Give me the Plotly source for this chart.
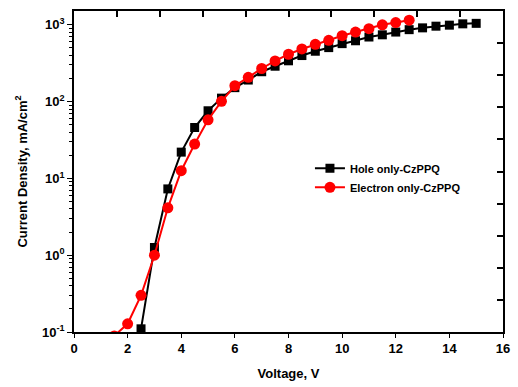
import plotly.graph_objects as go

hole_v = [2.5, 3.0, 3.5, 4.0, 4.5, 5.0, 5.5, 6.0, 6.5, 7.0, 7.5, 8.0, 8.5, 9.0, 9.5, 10.0,
          10.5, 11.0, 11.5, 12.0, 12.5, 13.0, 13.5, 14.0, 14.5, 15.0]
hole_j = [0.11, 1.26, 7.3, 22, 46, 76, 111, 152, 191, 245, 289, 340, 398, 453, 505, 569,
          620, 694, 741, 805, 865, 913, 960, 990, 1030, 1045]

elec_v = [1.5, 2.0, 2.5, 3.0, 3.5, 4.0, 4.5, 5.0, 5.5, 6.0, 6.5, 7.0, 7.5, 8.0, 8.5, 9.0,
          9.5, 10.0, 10.5, 11.0, 11.5, 12.0, 12.5]
elec_j = [0.089, 0.128, 0.30, 1.0, 4.14, 12.6, 28, 58, 101, 161, 207, 270, 339, 414, 485, 557,
          628, 722, 805, 890, 1000, 1070, 1150]

y_tickvals = [0.1, 1, 10, 100, 1000]
y_ticktext = ["<b>10<sup>-1</sup></b>", "<b>10<sup>0</sup></b>", "<b>10<sup>1</sup></b>",
              "<b>10<sup>2</sup></b>", "<b>10<sup>3</sup></b>"]
x_tickvals = [0, 2, 4, 6, 8, 10, 12, 14, 16]
x_ticktext = ["<b>%d</b>" % v for v in x_tickvals]

minor_vals = [m * 10 ** e for e in range(-1, 4) for m in range(2, 10)]
mirror_vals = list(range(0, 11))

fig = go.Figure()
fig.add_trace(go.Scatter(x=hole_v, y=hole_j, mode="lines+markers", name="<b>Hole only-CzPPQ</b>",
                         line=dict(color="black", width=2),
                         marker=dict(symbol="square", size=9, color="black")))
fig.add_trace(go.Scatter(x=elec_v, y=elec_j, mode="lines+markers", name="<b>Electron only-CzPPQ</b>",
                         line=dict(color="#ff0000", width=2),
                         marker=dict(symbol="circle", size=11, color="#ff0000")))
# invisible trace for mirror axes
fig.add_trace(go.Scatter(x=[0, 10], y=[0, 10], xaxis="x2", yaxis="y2", mode="markers",
                         marker=dict(size=1, color="rgba(0,0,0,0)"), showlegend=False, hoverinfo="skip"))

fnt = "Liberation Sans, Arial"
fig.update_layout(
    width=518, height=387,
    margin=dict(l=74, r=8, t=11, b=53),
    plot_bgcolor="white", paper_bgcolor="white",
    font=dict(family=fnt, size=13, color="black"),
    showlegend=True,
    legend=dict(x=0.55, y=0.555, xanchor="left", yanchor="top",
                font=dict(family=fnt, size=11, color="black"),
                bgcolor="rgba(0,0,0,0)", tracegroupgap=0, itemwidth=30),
    xaxis=dict(range=[0, 16], tickvals=x_tickvals, ticktext=x_ticktext, ticks="outside", ticklen=4,
               tickcolor="black", showline=True, linecolor="black", linewidth=1.5,
               showgrid=False, zeroline=False,
               tickfont=dict(family=fnt, size=13, color="black"),
               title=dict(text="<b>Voltage, V</b>", standoff=14, font=dict(family=fnt, size=13))),
    yaxis=dict(type="log", range=[-1, 3.18], tickvals=y_tickvals, ticktext=y_ticktext,
               ticks="outside", ticklen=5, tickcolor="black", showline=True, linecolor="black",
               linewidth=1.5, showgrid=False, zeroline=False,
               minor=dict(tickvals=minor_vals, ticks="outside", ticklen=3, tickcolor="black", showgrid=False),
               tickfont=dict(family=fnt, size=13, color="black"),
               title=dict(text="<b>Current Density, mA/cm<sup>2</sup></b>", standoff=12,
                          font=dict(family=fnt, size=13))),
    xaxis2=dict(overlaying="x", anchor="y", side="top", range=[0, 10], tickmode="array",
                tickvals=mirror_vals, ticktext=[""] * len(mirror_vals),
                ticks="inside", ticklen=6, tickwidth=1.5, tickcolor="black",
                showline=True, linecolor="black", linewidth=1.5,
                showgrid=False, zeroline=False),
    yaxis2=dict(overlaying="y", anchor="x", side="right", range=[0, 10], tickmode="array",
                tickvals=mirror_vals, ticktext=[""] * len(mirror_vals),
                ticks="inside", ticklen=6, tickwidth=1.5, tickcolor="black",
                showline=True, linecolor="black", linewidth=1.5,
                showgrid=False, zeroline=False),
)

fig.write_html("out.html")
